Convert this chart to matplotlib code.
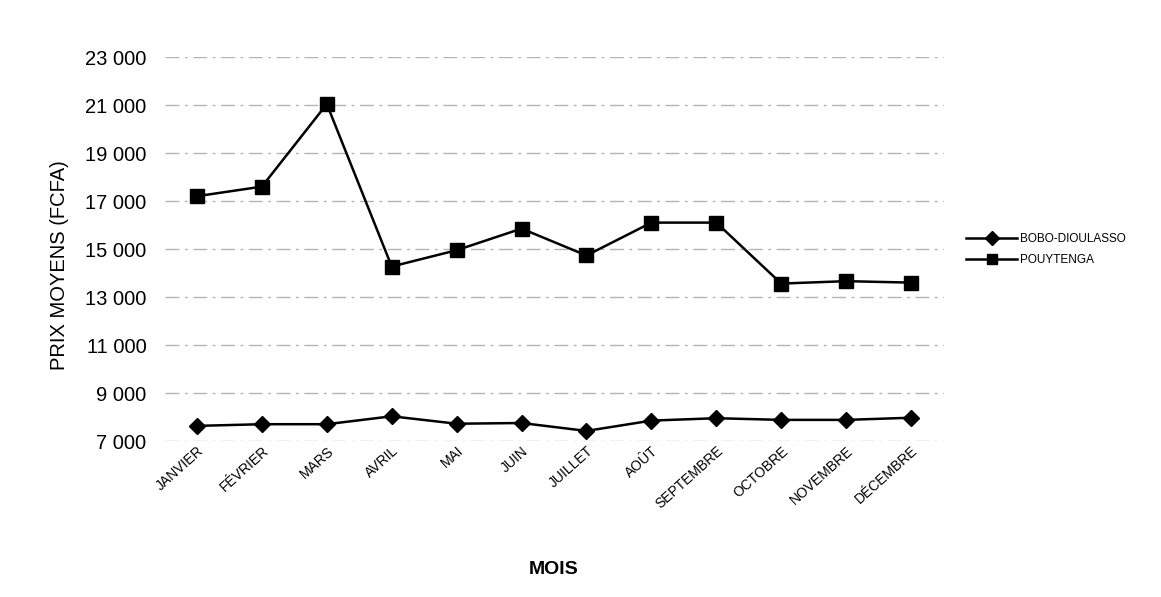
import numpy as np
import matplotlib.pyplot as plt

plt.rcParams['font.family'] = ['Liberation Sans', 'DejaVu Sans']

mois = ["JANVIER", "FÉVRIER", "MARS", "AVRIL", "MAI", "JUIN", "JUILLET",
        "AOÛT", "SEPTEMBRE", "OCTOBRE", "NOVEMBRE", "DÉCEMBRE"]
bobo = [7630, 7700, 7700, 8030, 7720, 7750, 7420, 7850, 7950, 7880, 7880, 7970]
pouytenga = [17200, 17600, 21040, 14270, 14950, 15850, 14730, 16100, 16100,
             13560, 13660, 13600]
yticks = list(range(7000, 23001, 2000))

fig = plt.figure(figsize=(11.61, 5.97), dpi=100)
ax = fig.add_axes([0.1417, 0.2613, 0.671, 0.6432])

x = np.arange(len(mois))
ax.plot(x, bobo, color="black", lw=1.8, marker="D", ms=8.5, label="BOBO-DIOULASSO")
ax.plot(x, pouytenga, color="black", lw=1.8, marker="s", ms=9.5, label="POUYTENGA")

ax.set_xlim(-0.5, len(mois) - 0.5)
ax.set_ylim(7000, 23000)
ax.set_yticks(yticks)
ax.set_yticklabels([f"{v:,}".replace(",", " ") for v in yticks], fontsize=14.5)
ax.set_xticks(x)
ax.set_xticklabels(mois, rotation=42, ha="right", rotation_mode="anchor", fontsize=10)

# faint broken gridlines like the scanned original
ax.grid(axis="y", color="#777777", lw=1, ls=(0, (10, 4, 2, 4)), alpha=0.55)
ax.set_axisbelow(True)
for s in ax.spines.values():
    s.set_visible(False)
ax.tick_params(length=0, axis="y", pad=13)
ax.tick_params(length=0, axis="x", pad=2)

ax.set_ylabel("PRIX MOYENS (FCFA)", fontsize=14.5)
ax.yaxis.set_label_coords(-0.122, 0.458)
ax.set_xlabel("MOIS", fontsize=14, fontweight="bold", labelpad=36)

fig.legend(loc="center left", bbox_to_anchor=(0.823, 0.582), frameon=False,
           fontsize=8.5, handlelength=4.3, handletextpad=0.3, labelspacing=0.7,
           markerscale=0.8)

fig.savefig("out.png", dpi=100)
